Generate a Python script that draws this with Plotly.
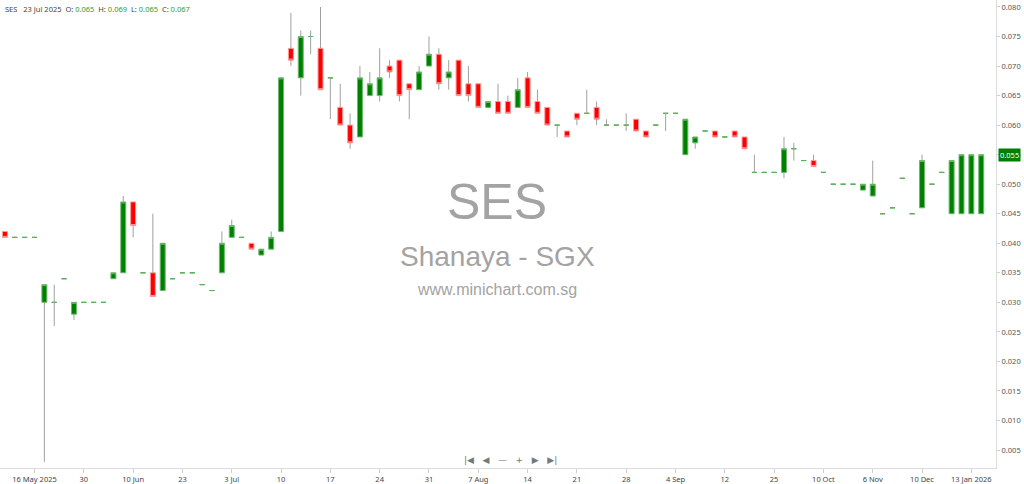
import plotly.graph_objects as go

dates = [
    "2025-05-13", "2025-05-14", "2025-05-15", "2025-05-16", "2025-05-19", "2025-05-21", "2025-05-23", "2025-05-28", "2025-05-30",
    "2025-06-02", "2025-06-04", "2025-06-05", "2025-06-09", "2025-06-10", "2025-06-12", "2025-06-16", "2025-06-18", "2025-06-19",
    "2025-06-23", "2025-06-24", "2025-06-26", "2025-06-27", "2025-06-30",
    "2025-07-03", "2025-07-04", "2025-07-07", "2025-07-08", "2025-07-09", "2025-07-10", "2025-07-11", "2025-07-14", "2025-07-15",
    "2025-07-16", "2025-07-17", "2025-07-18", "2025-07-21", "2025-07-22", "2025-07-23", "2025-07-24", "2025-07-25", "2025-07-28",
    "2025-07-29", "2025-07-30", "2025-07-31",
    "2025-08-01", "2025-08-04", "2025-08-05", "2025-08-06", "2025-08-07", "2025-08-08", "2025-08-11", "2025-08-12", "2025-08-13",
    "2025-08-14", "2025-08-15", "2025-08-18", "2025-08-19", "2025-08-20", "2025-08-21", "2025-08-22", "2025-08-25", "2025-08-26",
    "2025-08-27", "2025-08-28", "2025-08-29",
    "2025-09-01", "2025-09-02", "2025-09-03", "2025-09-04", "2025-09-05", "2025-09-08", "2025-09-10", "2025-09-11", "2025-09-12",
    "2025-09-15", "2025-09-17", "2025-09-19", "2025-09-22", "2025-09-25", "2025-09-26", "2025-09-29",
    "2025-10-02", "2025-10-07", "2025-10-10", "2025-10-14", "2025-10-17", "2025-10-22", "2025-10-29",
    "2025-11-06", "2025-11-12", "2025-11-18", "2025-11-25",
    "2025-12-03", "2025-12-10", "2025-12-17", "2025-12-23", "2025-12-30",
    "2026-01-07", "2026-01-13", "2026-01-15",
]

opens = [
    0.042, 0.041, 0.041, 0.041, 0.030, 0.030, 0.034, 0.028, 0.030, 0.030,
    0.030, 0.034, 0.035, 0.047, 0.035, 0.035, 0.032, 0.034, 0.035, 0.035,
    0.033, 0.032, 0.035, 0.041, 0.041, 0.040, 0.038, 0.039, 0.042, 0.073,
    0.068, 0.075, 0.073, 0.068, 0.063, 0.060, 0.058, 0.065, 0.065, 0.070,
    0.071, 0.067, 0.066, 0.070, 0.072, 0.068, 0.071, 0.067, 0.067, 0.063,
    0.064, 0.064, 0.063, 0.068, 0.064, 0.063, 0.060, 0.059, 0.062, 0.062,
    0.063, 0.060, 0.060, 0.060, 0.061, 0.059, 0.060, 0.062, 0.062, 0.055,
    0.057, 0.059, 0.059, 0.058, 0.059, 0.058, 0.052, 0.052, 0.052, 0.052,
    0.056, 0.054, 0.054, 0.052, 0.050, 0.050, 0.050, 0.049, 0.048, 0.045,
    0.046, 0.051, 0.045, 0.046, 0.050, 0.052, 0.045, 0.045, 0.045, 0.045,
]
highs = [
    0.042, 0.041, 0.041, 0.041, 0.033, 0.033, 0.034, 0.030, 0.030, 0.030,
    0.030, 0.035, 0.048, 0.047, 0.035, 0.045, 0.040, 0.034, 0.035, 0.035,
    0.033, 0.032, 0.042, 0.044, 0.041, 0.040, 0.039, 0.042, 0.068, 0.079,
    0.076, 0.076, 0.080, 0.068, 0.067, 0.062, 0.070, 0.069, 0.073, 0.071,
    0.071, 0.067, 0.070, 0.075, 0.073, 0.071, 0.071, 0.070, 0.067, 0.064,
    0.067, 0.065, 0.068, 0.069, 0.066, 0.063, 0.060, 0.059, 0.062, 0.066,
    0.064, 0.061, 0.060, 0.062, 0.061, 0.059, 0.060, 0.062, 0.062, 0.061,
    0.058, 0.059, 0.059, 0.058, 0.059, 0.058, 0.055, 0.052, 0.052, 0.058,
    0.057, 0.054, 0.055, 0.052, 0.050, 0.050, 0.050, 0.050, 0.054, 0.045,
    0.046, 0.051, 0.045, 0.055, 0.050, 0.052, 0.054, 0.055, 0.055, 0.055,
]
lows = [
    0.041, 0.041, 0.041, 0.041, 0.003, 0.026, 0.034, 0.027, 0.030, 0.030,
    0.030, 0.034, 0.035, 0.041, 0.035, 0.031, 0.032, 0.034, 0.035, 0.035,
    0.033, 0.032, 0.035, 0.041, 0.041, 0.039, 0.038, 0.039, 0.042, 0.070,
    0.065, 0.072, 0.066, 0.061, 0.060, 0.056, 0.058, 0.065, 0.064, 0.068,
    0.064, 0.061, 0.066, 0.070, 0.066, 0.066, 0.065, 0.064, 0.063, 0.063,
    0.062, 0.062, 0.063, 0.063, 0.062, 0.060, 0.058, 0.058, 0.060, 0.062,
    0.060, 0.060, 0.060, 0.059, 0.059, 0.058, 0.060, 0.059, 0.062, 0.055,
    0.056, 0.059, 0.058, 0.058, 0.058, 0.056, 0.052, 0.052, 0.052, 0.051,
    0.054, 0.054, 0.053, 0.052, 0.050, 0.050, 0.050, 0.049, 0.048, 0.045,
    0.046, 0.051, 0.045, 0.046, 0.050, 0.052, 0.045, 0.045, 0.045, 0.045,
]
closes = [
    0.041, 0.041, 0.041, 0.041, 0.033, 0.030, 0.034, 0.030, 0.030, 0.030,
    0.030, 0.035, 0.047, 0.043, 0.035, 0.031, 0.040, 0.034, 0.035, 0.035,
    0.033, 0.032, 0.040, 0.043, 0.041, 0.039, 0.039, 0.041, 0.068, 0.071,
    0.075, 0.075, 0.066, 0.068, 0.060, 0.057, 0.068, 0.067, 0.068, 0.069,
    0.065, 0.066, 0.069, 0.072, 0.067, 0.069, 0.065, 0.065, 0.063, 0.064,
    0.062, 0.062, 0.066, 0.063, 0.062, 0.060, 0.060, 0.058, 0.061, 0.062,
    0.061, 0.060, 0.060, 0.060, 0.059, 0.058, 0.060, 0.062, 0.062, 0.061,
    0.058, 0.059, 0.058, 0.058, 0.058, 0.056, 0.052, 0.052, 0.052, 0.056,
    0.056, 0.054, 0.053, 0.052, 0.050, 0.050, 0.050, 0.050, 0.050, 0.045,
    0.046, 0.051, 0.045, 0.054, 0.050, 0.052, 0.054, 0.055, 0.055, 0.055,
]

tick_idx = [3, 8, 13, 18, 23, 28, 33, 38, 43, 48, 53, 58, 63, 68, 73, 78, 83, 88, 93, 98]
tick_text = ["16 May 2025", "30", "10 Jun", "23", "3 Jul", "10", "17", "24", "31", "7 Aug",
             "14", "21", "28", "4 Sep", "12", "25", "10 Oct", "6 Nov", "10 Dec", "13 Jan 2026"]

symbol = "SES"
company = "Shanaya - SGX"
site = "www.minichart.com.sg"
header_idx = 37
header_date = "23 Jul 2025"

GREEN = "#008000"
RED = "#ff0000"

# wicks: upper (body top -> high) and lower (low -> body bottom) segments only
wx, wy = [], []
for d, o, h, l, c in zip(dates, opens, highs, lows, closes):
    top, bot = max(o, c), min(o, c)
    if h > top:
        wx += [d, d, None]
        wy += [top, h, None]
    if l < bot:
        wx += [d, d, None]
        wy += [l, bot, None]

body = [i for i in range(len(dates)) if opens[i] != closes[i]]
doji = [i for i in range(len(dates)) if opens[i] == closes[i]]

fig = go.Figure()
fig.add_trace(go.Scatter(x=wx, y=wy, mode="lines", line=dict(color="#a0a0a0", width=1),
                         hoverinfo="skip", showlegend=False))
fig.add_trace(go.Candlestick(
    x=[dates[i] for i in body],
    open=[opens[i] for i in body],
    close=[closes[i] for i in body],
    high=[max(opens[i], closes[i]) for i in body],
    low=[min(opens[i], closes[i]) for i in body],
    increasing=dict(fillcolor=GREEN, line=dict(color="#6db86d", width=1)),
    decreasing=dict(fillcolor=RED, line=dict(color="#ff9a9a", width=1)),
    whiskerwidth=0, hoverinfo="skip", showlegend=False,
))
fig.add_trace(go.Candlestick(
    x=[dates[i] for i in doji],
    open=[opens[i] for i in doji],
    close=[closes[i] for i in doji],
    high=[opens[i] for i in doji],
    low=[opens[i] for i in doji],
    increasing=dict(fillcolor="#5cae5c", line=dict(color="#5cae5c", width=1)),
    decreasing=dict(fillcolor="#5cae5c", line=dict(color="#5cae5c", width=1)),
    whiskerwidth=0, hoverinfo="skip", showlegend=False,
))

# watermark
wm = "#a3a3a3"
fig.add_annotation(xref="paper", yref="paper", x=0.499, y=1 - 202 / 468, text=symbol, showarrow=False,
                   font=dict(family="Liberation Sans", size=50, color=wm))
fig.add_annotation(xref="paper", yref="paper", x=0.499, y=1 - 256 / 468, text=company, showarrow=False,
                   font=dict(family="Liberation Sans", size=28, color=wm))
fig.add_annotation(xref="paper", yref="paper", x=0.499, y=1 - 289 / 468, text=site, showarrow=False,
                   font=dict(family="Liberation Sans", size=16, color=wm))

# header
vc = "#2e9e2e"
hi = header_idx
hdr = (f"<span style='color:#444'>{symbol}&nbsp;&nbsp;&nbsp;{header_date}&nbsp;&nbsp;O:</span>"
       f"&nbsp;<span style='color:{vc}'>{opens[hi]:.3f}</span>&nbsp;&nbsp;<span style='color:#444'>H:</span>"
       f"&nbsp;<span style='color:{vc}'>{highs[hi]:.3f}</span>&nbsp;&nbsp;<span style='color:#444'>L:</span>"
       f"&nbsp;<span style='color:{vc}'>{lows[hi]:.3f}</span>&nbsp;&nbsp;<span style='color:#444'>C:</span>"
       f"&nbsp;<span style='color:{vc}'>{closes[hi]:.3f}</span>")
fig.add_annotation(xref="paper", yref="paper", x=0.003, y=1 - 9 / 468, xanchor="left", yanchor="middle",
                   text=hdr, showarrow=False, font=dict(family="Noto Sans", size=7.5, color="#444"))

# navigation icons
fig.add_annotation(xref="paper", yref="paper", x=510 / 996, y=(468 - 460) / 468, yanchor="middle",
                   text="|◀&nbsp;&nbsp;&nbsp;◀&nbsp;&nbsp;&nbsp;—&nbsp;&nbsp;&nbsp;+&nbsp;&nbsp;&nbsp;▶&nbsp;&nbsp;&nbsp;▶|",
                   showarrow=False, font=dict(family="DejaVu Sans", size=9, color="#777"))

# last price tag
fig.add_annotation(xref="paper", yref="y", x=1, y=closes[-1], xanchor="left", xshift=2,
                   text=f"{closes[-1]:.3f}", showarrow=False, bgcolor=GREEN, borderpad=1,
                   font=dict(family="Noto Sans", size=7.5, color="white"))

fig.update_layout(
    width=1024, height=484,
    margin=dict(l=0, r=28, t=0, b=16),
    paper_bgcolor="white", plot_bgcolor="white",
    showlegend=False, hovermode=False,
    boxgap=0.28,
    xaxis=dict(
        type="category", categoryorder="array", categoryarray=dates,
        range=[-0.5, len(dates) + 0.5],
        rangeslider=dict(visible=False),
        tickmode="array", tickvals=[dates[i] for i in tick_idx], ticktext=tick_text,
        showgrid=False, zeroline=False, showline=True, linecolor="#dcdcdc", linewidth=1,
        ticks="outside", ticklen=4, tickcolor="#cfcfcf",
        tickfont=dict(family="Noto Sans", size=7.5, color="#444"),
    ),
    yaxis=dict(
        side="right", range=[0.00196, 0.08118],
        tickmode="linear", tick0=0.005, dtick=0.005, tickformat=".3f",
        showgrid=False, zeroline=False, showline=True, linecolor="#dcdcdc", linewidth=1,
        ticks="outside", ticklen=3, tickcolor="#cfcfcf",
        tickfont=dict(family="Noto Sans", size=7.5, color="#555"),
    ),
)

fig.write_html("out.html", config={"displayModeBar": False},
               post_script="document.body.style.margin='0';document.body.style.overflow='hidden';")
